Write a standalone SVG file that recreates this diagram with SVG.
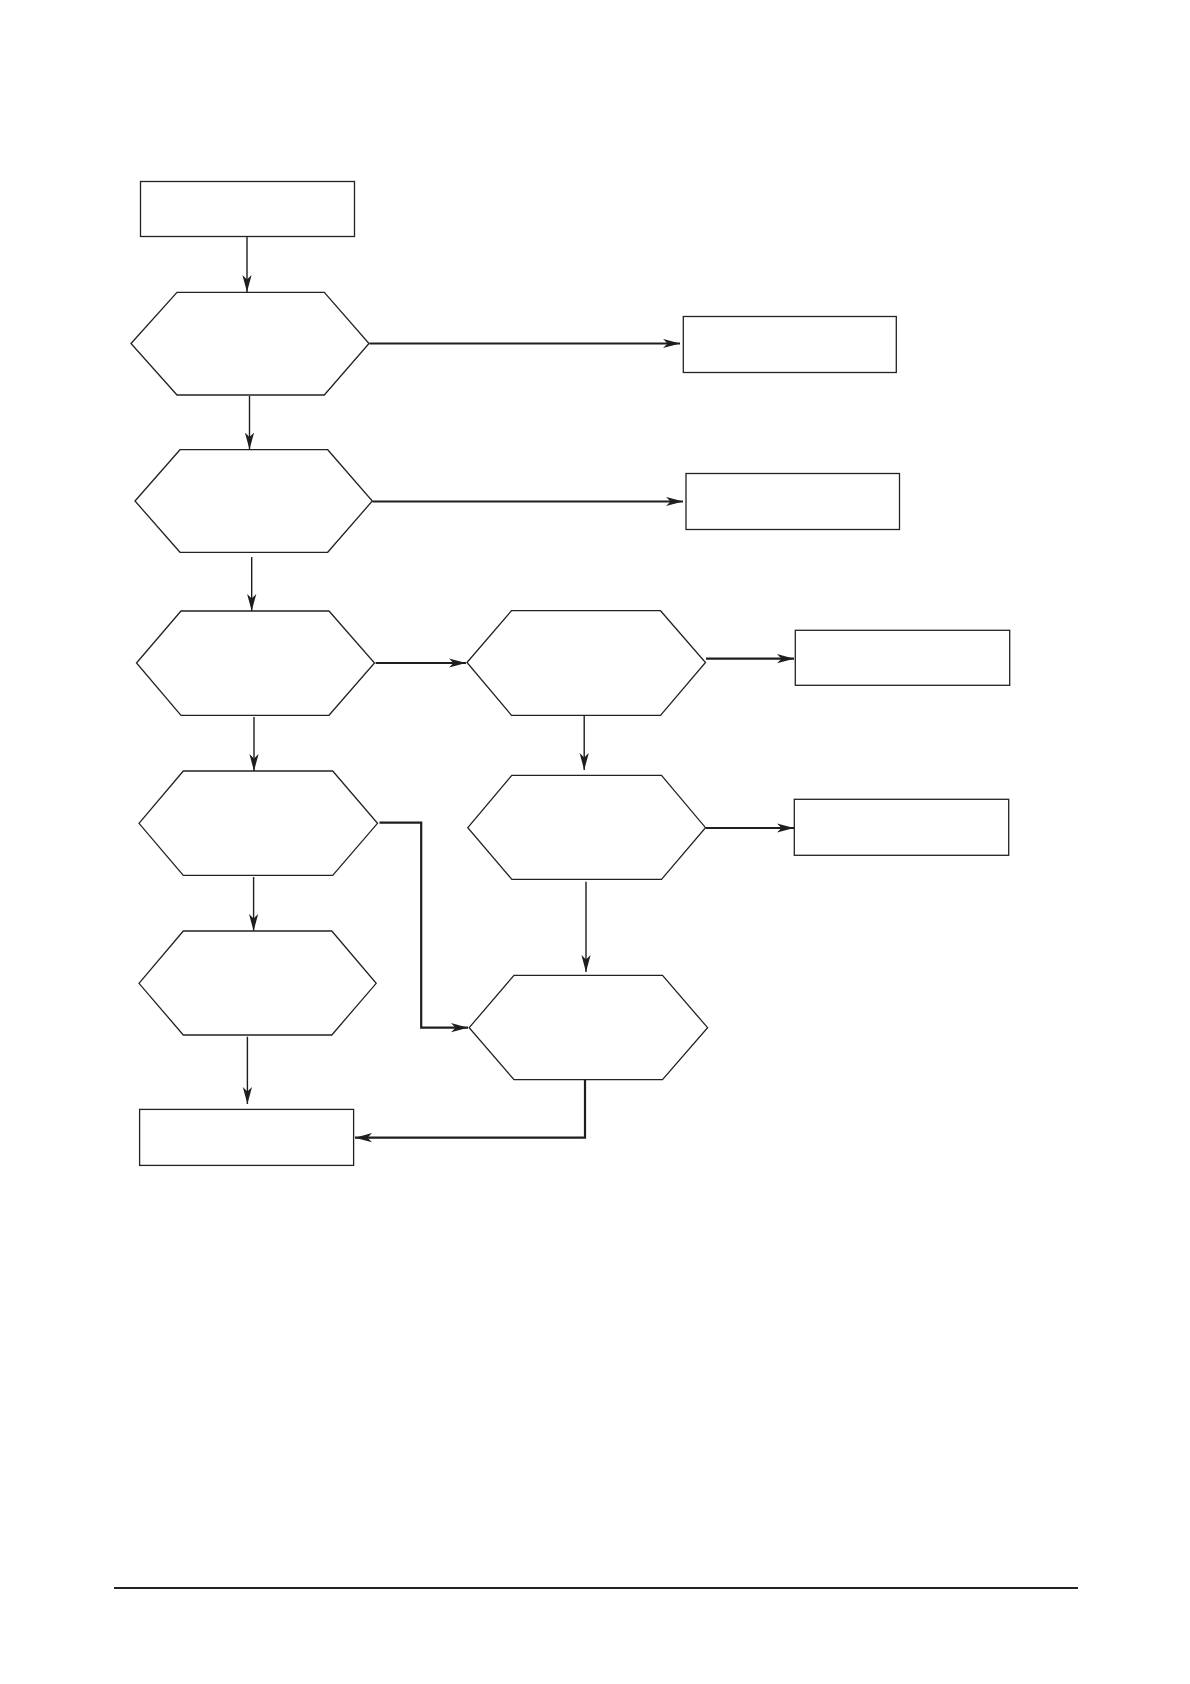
<svg xmlns="http://www.w3.org/2000/svg" width="1190" height="1684" viewBox="0 0 1190 1684">
<style>
.node{fill:#fff;stroke:#222;stroke-width:1.3}
.c{fill:none;stroke:#1e1e1e;stroke-width:1.4;marker-end:url(#ah)}
.t{stroke-width:2.2}
</style>
<defs>
<marker id="ah" markerUnits="userSpaceOnUse" markerWidth="20" markerHeight="12" refX="17" refY="5" orient="auto" viewBox="0 0 20 12">
<path d="M17,5 L0,0.4 L4.5,5 L0,9.6 Z" fill="#1e1e1e"/>
</marker>
</defs>
<rect width="1190" height="1684" fill="#fff"/>
<g id="start"><rect class="node" x="140.5" y="181.5" width="214" height="55"/></g>
<g id="d1"><polygon class="node" points="131,343.5 177,292.3 324.3,292.3 369,343.5 324.3,395 177,395"/></g>
<g id="r1"><rect class="node" x="683.3" y="316.5" width="213" height="56"/></g>
<g id="d2"><polygon class="node" points="135,501 180,449.7 327.7,449.7 372.3,501 327.7,552.3 180,552.3"/></g>
<g id="r2"><rect class="node" x="686" y="473.5" width="213.5" height="56"/></g>
<g id="d3"><polygon class="node" points="136.5,663 181,611 329,611 374.5,663 329,715.3 181,715.3"/></g>
<g id="dA"><polygon class="node" points="467,662.5 511.5,610.7 660.5,610.7 705.5,662.5 660.5,715.3 511.5,715.3"/></g>
<g id="rA"><rect class="node" x="795.3" y="630.3" width="214.4" height="55"/></g>
<g id="d4"><polygon class="node" points="139,823.3 183.3,771 332.7,771 377.5,823.3 332.7,875.3 183.3,875.3"/></g>
<g id="dB"><polygon class="node" points="467.8,827.7 511.8,775.3 661.5,775.3 705.5,827.7 661.5,879.3 511.8,879.3"/></g>
<g id="rB"><rect class="node" x="794.3" y="799.3" width="214.4" height="56"/></g>
<g id="d5"><polygon class="node" points="139,983.3 183.3,931 331.8,931 376.2,983.3 331.8,1035 183.3,1035"/></g>
<g id="d6"><polygon class="node" points="469.2,1027.7 514,975.3 662.5,975.3 707.6,1027.7 662.5,1079.6 514,1079.6"/></g>
<g id="end"><rect class="node" x="139.6" y="1109.4" width="214" height="56"/></g>
<g id="connectors">
<path class="c" d="M247,237 V292"/>
<path class="c t" d="M369.5,343.5 H680"/>
<path class="c" d="M249.5,396 V449.5"/>
<path class="c t" d="M372.5,501.5 H683"/>
<path class="c" d="M251.7,557 V611"/>
<path class="c t" d="M375.6,663 H466"/>
<path class="c" d="M254,717 V771"/>
<path class="c t" d="M706,658.7 H794"/>
<path class="c" d="M584.2,716 V770"/>
<path class="c t" d="M379.5,822.7 H421.2 V1027.7 H468"/>
<path class="c" d="M253.6,877 V931"/>
<path class="c t" d="M706,828 H794"/>
<path class="c" d="M586,881.7 V972"/>
<path class="c" d="M247.4,1036.7 V1104"/>
<path class="c t" d="M585,1080 V1137.7 H355"/>
</g>
<line x1="114" y1="1588" x2="1078" y2="1588" stroke="#222" stroke-width="2"/>
</svg>
